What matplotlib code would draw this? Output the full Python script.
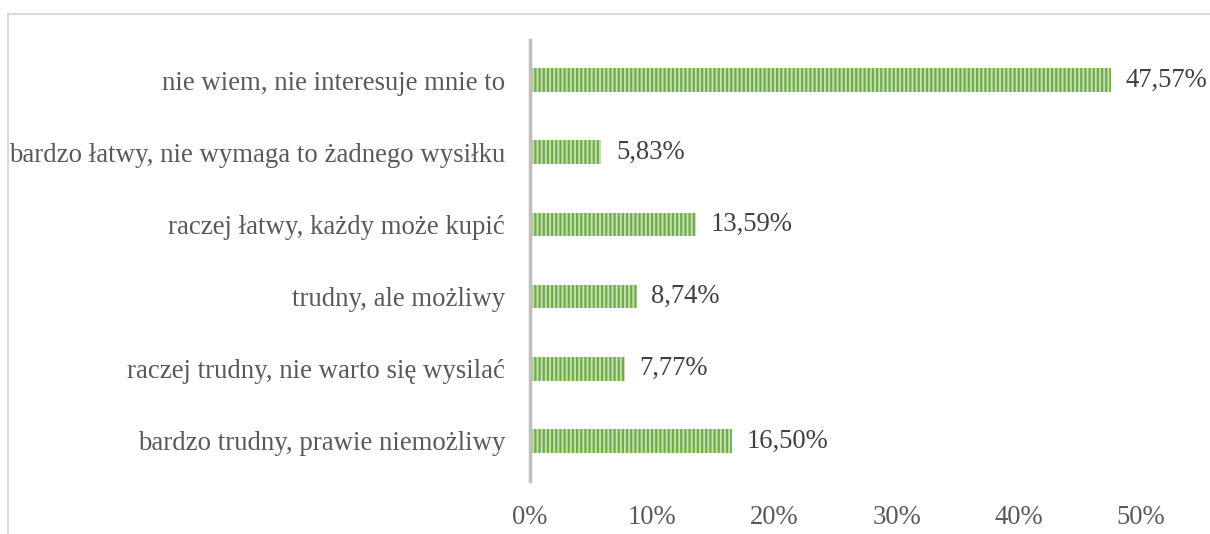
import matplotlib
matplotlib.use('Agg')
from matplotlib import pyplot as plt
from matplotlib.patches import Rectangle
import numpy as np

# categories listed bottom -> top
categories = ['bardzo trudny, prawie niemożliwy',
              'raczej trudny, nie warto się wysilać',
              'trudny, ale możliwy',
              'raczej łatwy, każdy może kupić',
              'bardzo łatwy, nie wymaga to żadnego wysiłku',
              'nie wiem, nie interesuje mnie to']
values = [16.50, 7.77, 8.74, 13.59, 5.83, 47.57]
value_labels = ['16,50%', '7,77%', '8,74%', '13,59%', '5,83%', '47,57%']
ticks = [0, 10, 20, 30, 40, 50]
tick_labels = ['0%', '10%', '20%', '30%', '40%', '50%']

plt.rcParams['font.family'] = ['Liberation Serif', 'DejaVu Serif']
plt.rcParams['hatch.linewidth'] = 1.6

fig = plt.figure(figsize=(12.1, 5.34), dpi=100)
# chart border like the Excel frame
fig.patches.append(Rectangle((8 / 1210, -0.1), 1.2, (534 - 14) / 534 + 0.1,
                             transform=fig.transFigure, fill=False,
                             edgecolor='#d9d9d9', linewidth=1.5))

ax = fig.add_axes([530 / 1210, 57 / 534, (1141 - 530) / 1210, 433 / 534])
y = np.arange(len(categories))
ax.barh(y, values, height=0.33, color='#c5e0b4', edgecolor='#70ad47',
        hatch='||||', linewidth=0)

for yi, v, lab in zip(y, values, value_labels):
    ax.text(v + 1.2, yi, lab, va='center', ha='left', fontsize=19.2, color='#404040')

ax.set_xlim(0, 50)
ax.set_ylim(-0.5, 5.5)
ax.set_yticks(y)
ax.set_yticklabels(categories, fontsize=19.3, color='#595959')
ax.set_xticks(ticks)
ax.set_xticklabels(tick_labels, fontsize=19.2, color='#595959')
ax.tick_params(length=0)
ax.tick_params(axis='y', pad=18)
ax.tick_params(axis='x', pad=20)
for s in ['top', 'right', 'bottom']:
    ax.spines[s].set_visible(False)
ax.spines['left'].set_color('#bfbfbf')
ax.spines['left'].set_linewidth(2.5)
ax.spines['left'].set_bounds(-0.55, 5.55)

fig.savefig('out.png', dpi=100)
